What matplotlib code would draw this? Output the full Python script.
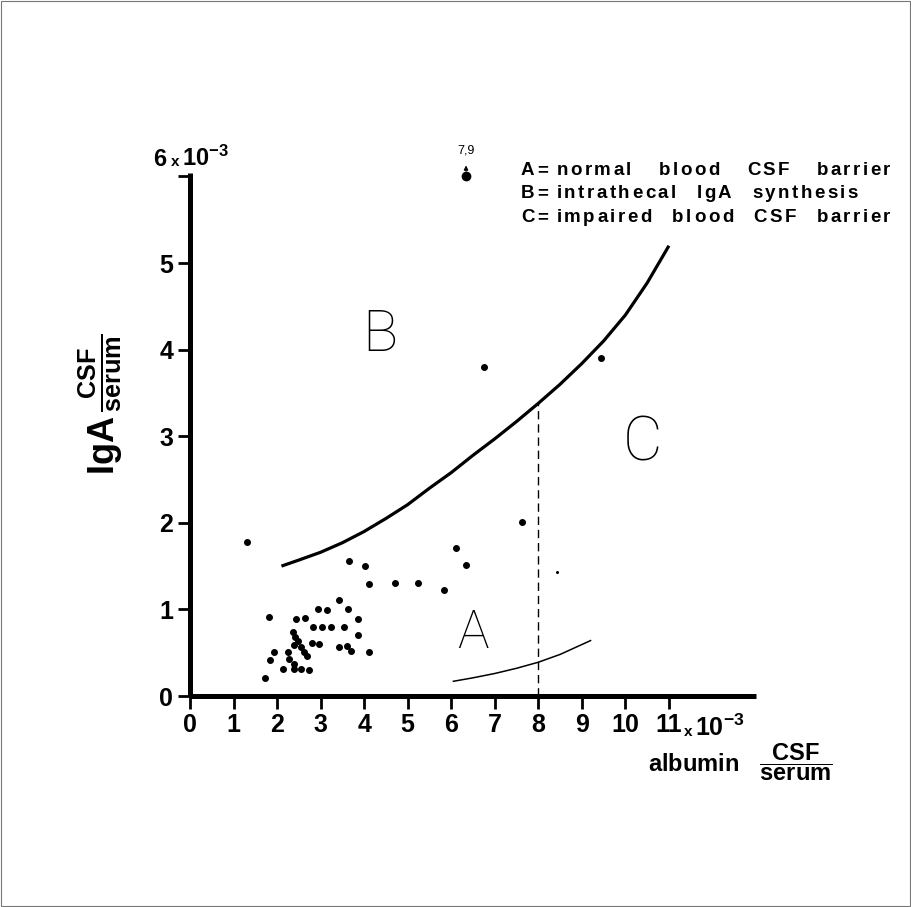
import matplotlib
matplotlib.use("Agg")
import matplotlib.pyplot as plt
from matplotlib.patches import Rectangle

plt.rcParams['font.family'] = ['Liberation Sans', 'DejaVu Sans']
plt.rcParams['mathtext.fontset'] = 'custom'
plt.rcParams['mathtext.rm'] = 'Liberation Sans:bold'
plt.rcParams['mathtext.bf'] = 'Liberation Sans:bold'
plt.rcParams['mathtext.it'] = 'Liberation Sans:bold'
plt.rcParams['mathtext.sf'] = 'Liberation Sans:bold'

# albumin quotient vs IgA quotient (both x10^-3)
alb = [1.30, 6.76, 9.43, 7.62, 6.12, 6.34, 4.70, 5.23, 5.83,
       3.66, 4.02, 4.12, 1.82, 2.43, 2.64, 2.94, 3.14, 3.43, 3.64, 3.86,
       2.82, 3.03, 3.23, 3.53, 3.85, 2.80, 2.96, 3.43, 3.60, 3.69, 4.12,
       2.37, 2.42, 2.48, 2.55, 2.62, 2.69, 2.40,
       1.93, 2.25, 1.83, 2.28, 2.40, 2.14, 2.40, 2.55, 2.73, 1.73]
iga = [1.78, 3.80, 3.90, 2.01, 1.71, 1.51, 1.30, 1.31, 1.22,
       1.56, 1.50, 1.29, 0.91, 0.89, 0.90, 1.00, 0.99, 1.11, 1.01, 0.89,
       0.80, 0.80, 0.80, 0.80, 0.70, 0.61, 0.60, 0.57, 0.58, 0.52, 0.51,
       0.74, 0.68, 0.63, 0.57, 0.51, 0.46, 0.59,
       0.51, 0.51, 0.41, 0.43, 0.37, 0.31, 0.31, 0.31, 0.30, 0.21]

# off-scale patient (IgA quotient 7.9), drawn at the top of the axis
off_alb = 6.34
off_iga = 7.9
off_plot = 6.0

# small speck
speck = (8.43, 1.43)

# upper boundary (intrathecal synthesis)
upper_x = [2.1, 2.5, 3.0, 3.5, 4.0, 4.5, 5.0, 5.5, 6.0, 6.5, 7.0, 7.5,
           8.0, 8.5, 9.0, 9.5, 10.0, 10.5, 11.0]
upper_y = [1.50, 1.57, 1.66, 1.77, 1.90, 2.05, 2.21, 2.40, 2.58, 2.78,
           2.97, 3.17, 3.38, 3.60, 3.84, 4.10, 4.40, 4.77, 5.20]

# lower boundary (normal range)
lower_x = [6.05, 6.5, 7.0, 7.5, 8.0, 8.5, 9.2]
lower_y = [0.17, 0.21, 0.26, 0.32, 0.39, 0.48, 0.64]

barrier_limit = 8.0

xticks = list(range(0, 12))
yticks = list(range(0, 7))

legend_words = [["A=", "normal", "blood", "CSF", "barrier"],
                ["B=", "intrathecal", "IgA", "synthesis"],
                ["C=", "impaired", "blood", "CSF", "barrier"]]

W, H = 911, 907
fig = plt.figure(figsize=(W / 100, H / 100), dpi=100)
fig.patches.append(Rectangle((0.0015, 0.0015), 0.997, 0.997, transform=fig.transFigure,
                             fill=False, edgecolor='#777777', linewidth=0.8))

ax = fig.add_axes([190 / W, 1 - 696 / H, 566 / W, 523 / H])
ax.set_xlim(0, 13.0)
ax.set_ylim(0, 6.04)

for s in ['top', 'right']:
    ax.spines[s].set_visible(False)
for s in ['left', 'bottom']:
    ax.spines[s].set_linewidth(3.6)
    ax.spines[s].set_capstyle('butt')

ax.set_xticks(xticks)
ax.set_xticklabels([str(t) for t in xticks])
ax.set_yticks(yticks)
ax.set_yticklabels([str(t) for t in yticks[:-1]] + [''])
ax.tick_params(axis='both', direction='out', length=9, width=2.0,
               labelsize=18, pad=3)
for lab in ax.get_xticklabels() + ax.get_yticklabels():
    lab.set_fontweight('bold')

# data points
ax.plot(alb, iga, 'o', color='black', ms=4.0, mec='black', clip_on=False)
ax.plot([speck[0]], [speck[1]], 'o', color='black', ms=1.2, clip_on=False)

# off-scale point with arrow
ax.plot([off_alb], [off_plot], 'o', color='black', ms=6.0, clip_on=False)
ax.annotate('', xy=(off_alb, off_plot + 0.16), xytext=(off_alb, off_plot + 0.03),
            arrowprops=dict(arrowstyle='-|>', color='black', lw=0.9,
                            mutation_scale=6), annotation_clip=False)
ax.text(off_alb, off_plot + 0.23, str(off_iga).replace('.', ','),
        ha='center', va='bottom', fontsize=9)

# boundary curves
ax.plot(upper_x, upper_y, color='black', lw=2.3, solid_capstyle='butt')
ax.plot(lower_x, lower_y, color='black', lw=1.1)
ax.plot([barrier_limit, barrier_limit],
        [0, upper_y[upper_x.index(barrier_limit)]],
        color='black', lw=1.0, dashes=(6, 3.5))

# region letters
ax.text(4.35, 4.16, 'B', ha='center', va='center', fontsize=42,
        family='Roboto', fontweight=100)
ax.text(10.39, 2.92, 'C', ha='center', va='center', fontsize=44,
        family='Roboto', fontweight=100)
ax.text(6.5, 0.72, 'A', ha='center', va='center', fontsize=38,
        family='Roboto', fontweight=100)

# scale factors next to the 6 and 11 ticks
fig.text(153 / W, 1 - 166 / H, '6', fontsize=17, fontweight='bold',
         ha='left', va='baseline')
fig.text(171 / W, 1 - 166 / H, 'x', fontsize=11, fontweight='bold',
         ha='left', va='baseline')
fig.text(182 / W, 1 - 166 / H, r'10$^{-3}$', fontsize=17, fontweight='bold',
         ha='left', va='baseline')
fig.text(684 / W, 1 - 736 / H, 'x', fontsize=11, fontweight='bold',
         ha='left', va='baseline')
fig.text(695 / W, 1 - 736 / H, r'10$^{-3}$', fontsize=18, fontweight='bold',
         ha='left', va='baseline')

# axis titles
fig.text(101 / W, 1 - 404 / H, r'$\mathrm{IgA}\,\frac{\mathrm{CSF}}{\mathrm{serum}}$',
         rotation=90, fontsize=26, ha='center', va='center')
fig.text(832 / W, 1 - 762 / H,
         r'$\mathrm{albumin}\ \ \ \dfrac{\mathrm{CSF}}{\mathrm{serum}}$',
         fontsize=17, ha='right', va='center')

# legend text, spaced out like the original lettering
renderer = fig.canvas.get_renderer()
track = 2.5
right_edge = [893, None, 893]
for i, words in enumerate(legend_words):
    y = 1 - (175 + 23.5 * i) / H
    widths = []
    for word in words:
        w = 0.0
        for ch in word:
            t = fig.text(0, 0, ch, fontsize=13.5, fontweight='bold')
            w += t.get_window_extent(renderer).width + track
            t.remove()
        widths.append(w)
    x = 521.0
    first_gap = 6
    if right_edge[i] is None:
        gap = 18
    else:
        gap = (right_edge[i] - x - sum(widths) - first_gap) / (len(words) - 2)
    for j, word in enumerate(words):
        for ch in word:
            t = fig.text(x / W, y, ch, fontsize=13.5, fontweight='bold',
                         ha='left', va='baseline')
            x += t.get_window_extent(renderer).width + track
        x += first_gap if j == 0 else gap

fig.savefig('out.png', dpi=100)
